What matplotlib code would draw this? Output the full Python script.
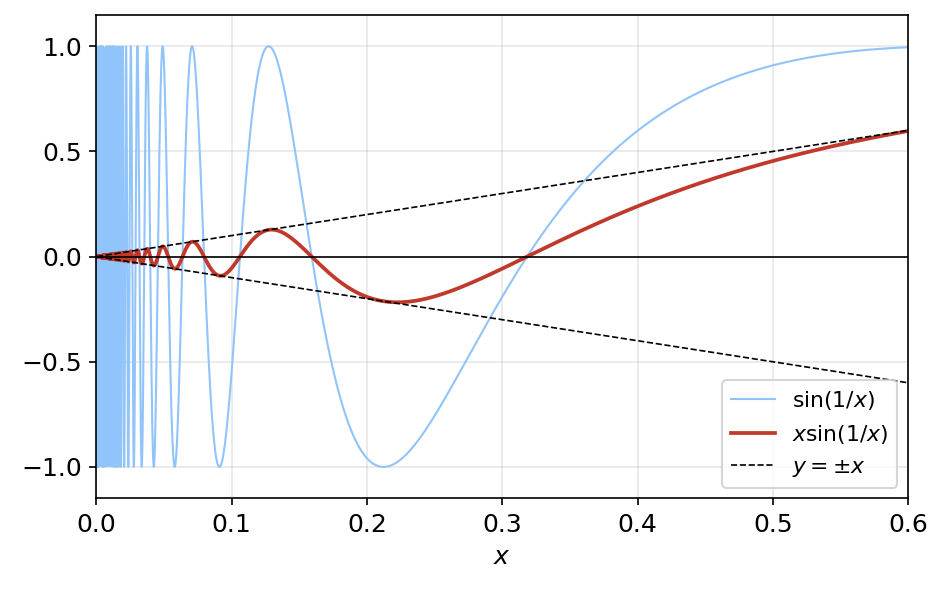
import numpy as np
import matplotlib
matplotlib.use("Agg")
import matplotlib.pyplot as plt

x_range = [0.0005, 0.6]
n_points = 20000
labels = [r"$\sin(1/x)$", r"$x\sin(1/x)$", r"$y=\pm x$"]
colors = ["#90c4fa", "#c0392b", "black"]

x = np.linspace(x_range[0], x_range[1], n_points)
s = np.sin(1 / x)

fig, ax = plt.subplots(figsize=(6.3, 3.947), dpi=150)
ax.plot(x, s, color=colors[0], lw=1.0, label=labels[0])
ax.plot(x, x * s, color=colors[1], lw=1.8, label=labels[1])
ax.plot(x, x, "--", color=colors[2], lw=0.8, label=labels[2])
ax.plot(x, -x, "--", color=colors[2], lw=0.8)
ax.axhline(0, color="black", lw=0.8)
ax.set_xlim(0, 0.6)
ax.set_ylim(-1.15, 1.15)
ax.set_yticks([-1.0, -0.5, 0.0, 0.5, 1.0])
ax.grid(True, alpha=0.3)
ax.set_xlabel(r"$x$", fontsize=12)
ax.tick_params(labelsize=12)
ax.legend(loc="lower right", fontsize=10.5)
fig.subplots_adjust(left=0.102, right=0.961, top=0.975, bottom=0.158)
fig.savefig("out.png", dpi=150)
